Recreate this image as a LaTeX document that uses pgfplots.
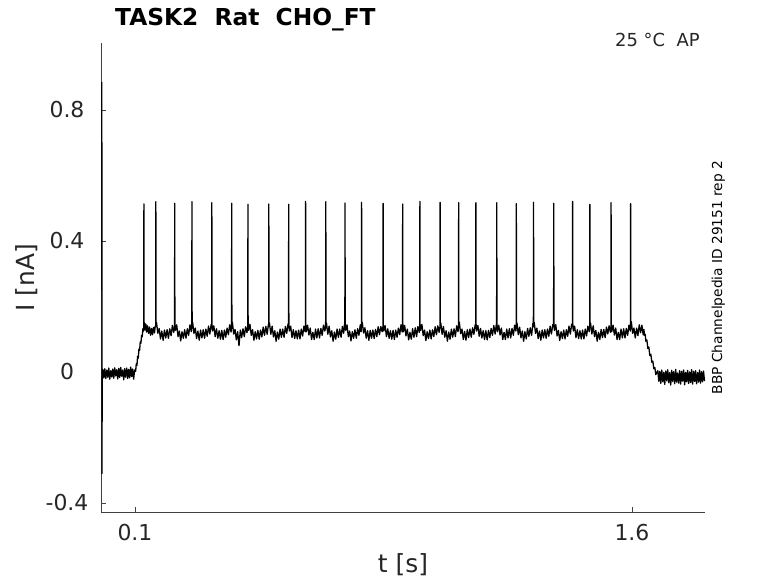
\documentclass[border=0pt]{standalone}
\usepackage{fontspec}
\setmainfont{DejaVu Sans}
\usepackage{pgfplots}
\pgfplotsset{compat=1.18}
\begin{document}
\begin{tikzpicture}[x=1bp,y=1bp]
\path[use as bounding box] (0,0) rectangle (778,583);
\begin{axis}[
 at={(101bp,71bp)}, anchor=south west,
 scale only axis, width=604bp, height=469bp,
 xmin=-0.0025, xmax=1.8205, ymin=-0.4275, ymax=1.0046,
 axis x line*=bottom, axis y line*=left,
 axis line style={-, draw=black!75, line width=0.6bp},
 tick align=inside, major tick length=5bp,
 tick style={black!75, line width=0.6bp},
 xtick={0.1,1.6}, xticklabels={0.1,1.6},
 ytick={-0.4,0,0.4,0.8}, yticklabels={-0.4,0,0.4,0.8},
 tick label style={font=\fontsize{22}{26}\selectfont, text=black!85},
 xticklabel style={anchor=north, yshift=-9bp},
 yticklabel style={anchor=center, xshift=-34bp},
 xlabel={t [s]}, ylabel={I [nA]},
 label style={font=\fontsize{25}{30}\selectfont, text=black!85},
 xlabel style={at={(axis description cs:0.5,-0.113)}, anchor=center},
 ylabel style={at={(axis description cs:-0.1225,0.5)}, anchor=center},
]
\addplot[black, line width=1.3bp, line join=round, no markers] coordinates {
(0,0.885)(0.0004,-0.31)(0.0012,-0.005)
(0.003,0.008)(0.006,-0.018)(0.009,0.010)(0.012,-0.020)(0.015,0.006)(0.018,-0.016)(0.021,0.012)(0.024,-0.022)(0.027,0.004)(0.030,-0.015)(0.033,0.009)(0.036,-0.019)(0.039,0.013)(0.042,-0.012)(0.045,0.007)(0.048,-0.021)(0.051,0.011)(0.054,-0.017)(0.057,0.014)(0.060,-0.013)(0.063,0.006)(0.066,-0.024)(0.069,0.010)(0.072,-0.016)(0.075,0.012)(0.078,-0.020)(0.081,0.008)(0.084,-0.018)(0.087,0.015)(0.090,-0.014)(0.093,0.009)(0.096,-0.022)(0.099,0.006)
(0.102,0.002)(0.104,0.025)(0.106,0.020)(0.108,0.048)(0.110,0.042)(0.112,0.070)(0.114,0.066)(0.116,0.092)(0.118,0.088)(0.120,0.112)(0.122,0.108)(0.124,0.132)(0.126,0.125)
(0.1265,0.138)(0.127,0.513)(0.1275,0.146)
(0.129,0.150)(0.131,0.128)(0.133,0.146)(0.135,0.122)(0.138,0.141)(0.141,0.118)(0.144,0.137)(0.147,0.112)(0.150,0.133)(0.153,0.114)(0.156,0.136)(0.159,0.119)(0.161,0.140)
(0.1625,0.138)(0.163,0.520)(0.1635,0.146)
(0.165,0.152)(0.169,0.118)(0.173,0.133)(0.177,0.101)(0.181,0.125)(0.185,0.097)(0.189,0.128)(0.193,0.104)(0.197,0.129)(0.201,0.103)(0.205,0.132)(0.209,0.111)(0.213,0.142)(0.217,0.121)
(0.2195,0.138)(0.220,0.515)(0.2205,0.146)
(0.222,0.127)(0.226,0.144)(0.230,0.108)(0.234,0.125)(0.238,0.095)(0.242,0.123)(0.246,0.103)(0.250,0.129)(0.254,0.103)(0.258,0.132)(0.262,0.112)(0.266,0.144)(0.270,0.123)
(0.2715,0.138)(0.272,0.520)(0.2725,0.146)
(0.274,0.152)(0.278,0.118)(0.282,0.134)(0.286,0.102)(0.290,0.125)(0.294,0.097)(0.298,0.128)(0.302,0.104)(0.306,0.129)(0.310,0.103)(0.314,0.131)(0.318,0.109)(0.322,0.140)(0.326,0.116)(0.330,0.145)
(0.3315,0.138)(0.332,0.517)(0.3325,0.146)
(0.334,0.125)(0.338,0.141)(0.342,0.108)(0.346,0.132)(0.350,0.103)(0.354,0.126)(0.358,0.100)(0.362,0.127)(0.366,0.099)(0.370,0.128)(0.374,0.106)(0.378,0.134)(0.382,0.114)(0.386,0.144)(0.390,0.122)
(0.3915,0.138)(0.392,0.515)(0.3925,0.146)
(0.394,0.152)(0.398,0.116)(0.402,0.130)(0.406,0.098)(0.410,0.123)(0.414,0.080)(0.418,0.128)(0.422,0.105)(0.426,0.132)(0.430,0.108)(0.434,0.138)(0.438,0.120)
(0.4405,0.138)(0.441,0.512)(0.4415,0.146)
(0.443,0.127)(0.447,0.146)(0.451,0.112)(0.455,0.129)(0.459,0.097)(0.463,0.123)(0.467,0.101)(0.471,0.127)(0.475,0.100)(0.479,0.128)(0.483,0.107)(0.487,0.137)(0.491,0.112)(0.495,0.139)(0.499,0.115)(0.5025,0.144)
(0.5035,0.138)(0.504,0.513)(0.5045,0.146)
(0.506,0.150)(0.510,0.115)(0.514,0.140)(0.518,0.107)(0.522,0.126)(0.526,0.094)(0.530,0.122)(0.534,0.100)(0.538,0.131)(0.542,0.106)(0.546,0.131)(0.550,0.106)(0.554,0.139)(0.558,0.118)(0.562,0.147)
(0.5635,0.138)(0.564,0.512)(0.5645,0.146)
(0.566,0.125)(0.570,0.140)(0.574,0.105)(0.578,0.129)(0.582,0.102)(0.586,0.126)(0.590,0.101)(0.594,0.128)(0.598,0.101)(0.602,0.131)(0.606,0.110)(0.610,0.140)(0.6135,0.123)
(0.6145,0.138)(0.615,0.521)(0.6155,0.146)
(0.617,0.123)(0.621,0.143)(0.625,0.113)(0.629,0.134)(0.633,0.099)(0.637,0.121)(0.641,0.099)(0.645,0.131)(0.649,0.104)(0.653,0.132)(0.657,0.104)(0.661,0.133)(0.665,0.112)(0.669,0.143)(0.673,0.125)
(0.6755,0.138)(0.676,0.520)(0.6765,0.146)
(0.678,0.150)(0.682,0.115)(0.686,0.140)(0.690,0.107)(0.694,0.126)(0.698,0.094)(0.702,0.122)(0.706,0.100)(0.710,0.131)(0.714,0.106)(0.718,0.131)(0.722,0.106)(0.726,0.139)(0.730,0.118)(0.7325,0.147)
(0.7335,0.138)(0.734,0.516)(0.7345,0.146)
(0.736,0.127)(0.740,0.144)(0.744,0.108)(0.748,0.125)(0.752,0.095)(0.756,0.123)(0.760,0.103)(0.764,0.129)(0.768,0.103)(0.772,0.132)(0.776,0.112)(0.780,0.144)(0.7825,0.123)
(0.7835,0.138)(0.784,0.518)(0.7845,0.146)
(0.786,0.152)(0.790,0.119)(0.794,0.135)(0.798,0.103)(0.802,0.126)(0.806,0.097)(0.810,0.127)(0.814,0.103)(0.818,0.128)(0.822,0.102)(0.826,0.130)(0.830,0.108)(0.834,0.138)(0.838,0.114)(0.842,0.139)(0.846,0.123)
(0.8485,0.138)(0.849,0.515)(0.8495,0.146)
(0.851,0.125)(0.855,0.141)(0.859,0.108)(0.863,0.132)(0.867,0.103)(0.871,0.126)(0.875,0.100)(0.879,0.127)(0.883,0.099)(0.887,0.128)(0.891,0.106)(0.895,0.134)(0.899,0.114)(0.903,0.144)(0.9065,0.122)
(0.9075,0.138)(0.908,0.513)(0.9085,0.146)
(0.910,0.123)(0.914,0.142)(0.918,0.110)(0.922,0.131)(0.926,0.098)(0.930,0.121)(0.934,0.100)(0.938,0.132)(0.942,0.106)(0.946,0.135)(0.950,0.108)(0.954,0.139)(0.958,0.121)
(0.9595,0.138)(0.960,0.521)(0.9605,0.146)
(0.962,0.127)(0.966,0.145)(0.970,0.111)(0.974,0.128)(0.978,0.096)(0.982,0.123)(0.986,0.102)(0.990,0.128)(0.994,0.101)(0.998,0.129)(1.002,0.108)(1.006,0.138)(1.010,0.114)(1.014,0.141)(1.018,0.121)
(1.0205,0.138)(1.021,0.518)(1.0215,0.146)
(1.023,0.150)(1.027,0.115)(1.031,0.139)(1.035,0.106)(1.039,0.126)(1.043,0.094)(1.047,0.122)(1.051,0.100)(1.055,0.131)(1.059,0.106)(1.063,0.132)(1.067,0.108)(1.071,0.141)(1.075,0.123)
(1.0765,0.138)(1.077,0.517)(1.0775,0.146)
(1.079,0.152)(1.083,0.117)(1.087,0.131)(1.091,0.099)(1.095,0.124)(1.099,0.097)(1.103,0.129)(1.107,0.105)(1.111,0.131)(1.115,0.106)(1.119,0.135)(1.123,0.115)(1.127,0.145)
(1.1285,0.138)(1.129,0.517)(1.1295,0.146)
(1.131,0.125)(1.135,0.142)(1.139,0.109)(1.143,0.133)(1.147,0.104)(1.151,0.126)(1.155,0.099)(1.159,0.126)(1.163,0.098)(1.167,0.127)(1.171,0.105)(1.175,0.133)(1.179,0.112)(1.183,0.142)(1.187,0.116)(1.1905,0.145)
(1.1915,0.138)(1.192,0.517)(1.1925,0.146)
(1.194,0.123)(1.198,0.143)(1.202,0.113)(1.206,0.134)(1.210,0.099)(1.214,0.121)(1.218,0.099)(1.222,0.131)(1.226,0.104)(1.230,0.132)(1.234,0.104)(1.238,0.133)(1.242,0.112)(1.246,0.143)(1.2495,0.125)
(1.2505,0.138)(1.251,0.514)(1.2515,0.146)
(1.253,0.150)(1.257,0.114)(1.261,0.137)(1.265,0.104)(1.269,0.125)(1.273,0.094)(1.277,0.123)(1.281,0.101)(1.285,0.133)(1.289,0.109)(1.293,0.135)(1.297,0.112)(1.301,0.148)
(1.3025,0.138)(1.303,0.518)(1.3035,0.146)
(1.305,0.152)(1.309,0.118)(1.313,0.134)(1.317,0.102)(1.321,0.125)(1.325,0.097)(1.329,0.128)(1.333,0.104)(1.337,0.129)(1.341,0.103)(1.345,0.131)(1.349,0.109)(1.353,0.140)(1.357,0.116)(1.361,0.145)
(1.3635,0.138)(1.364,0.515)(1.3645,0.146)
(1.366,0.127)(1.370,0.145)(1.374,0.110)(1.378,0.127)(1.382,0.096)(1.386,0.123)(1.390,0.102)(1.394,0.128)(1.398,0.101)(1.402,0.129)(1.406,0.109)(1.410,0.140)(1.414,0.116)(1.418,0.146)
(1.4205,0.138)(1.421,0.521)(1.4215,0.146)
(1.423,0.125)(1.427,0.140)(1.431,0.105)(1.435,0.129)(1.439,0.102)(1.443,0.126)(1.447,0.101)(1.451,0.128)(1.455,0.101)(1.459,0.131)(1.463,0.110)(1.467,0.140)(1.471,0.123)
(1.4725,0.138)(1.473,0.512)(1.4735,0.146)
(1.475,0.150)(1.479,0.116)(1.483,0.141)(1.487,0.108)(1.491,0.127)(1.495,0.094)(1.499,0.121)(1.503,0.099)(1.507,0.130)(1.511,0.105)(1.515,0.130)(1.519,0.105)(1.523,0.137)(1.527,0.116)(1.531,0.141)(1.535,0.121)
(1.5365,0.138)(1.537,0.517)(1.5375,0.146)
(1.539,0.123)(1.543,0.143)(1.547,0.113)(1.551,0.134)(1.555,0.099)(1.559,0.121)(1.563,0.099)(1.567,0.131)(1.571,0.104)(1.575,0.132)(1.579,0.104)(1.583,0.133)(1.587,0.112)(1.591,0.143)(1.595,0.125)
(1.5955,0.138)(1.596,0.514)(1.5965,0.146)
(1.598,0.154)(1.602,0.118)(1.606,0.134)(1.610,0.104)(1.614,0.134)(1.618,0.111)(1.622,0.144)(1.626,0.120)(1.630,0.143)(1.634,0.113)
(1.636,0.130)(1.638,0.112)(1.640,0.115)(1.642,0.094)(1.645,0.098)(1.648,0.072)(1.651,0.076)(1.654,0.050)(1.657,0.054)(1.660,0.030)(1.663,0.033)(1.666,0.010)(1.669,0.014)(1.672,-0.008)(1.675,-0.002)
(1.678,0.004)(1.681,-0.028)(1.684,0.002)(1.687,-0.035)(1.690,0.006)(1.693,-0.030)(1.696,-0.001)(1.699,-0.038)(1.702,0.003)(1.705,-0.027)(1.708,0.007)(1.711,-0.033)(1.714,-0.002)(1.717,-0.040)(1.720,0.005)(1.723,-0.029)(1.726,0.001)(1.729,-0.036)(1.732,0.008)(1.735,-0.031)(1.738,-0.003)(1.741,-0.034)(1.744,0.004)(1.747,-0.037)(1.750,0.002)(1.753,-0.028)(1.756,0.006)(1.759,-0.039)(1.762,-0.001)(1.765,-0.030)(1.768,0.005)(1.771,-0.035)(1.774,0.000)(1.777,-0.032)(1.780,0.007)(1.783,-0.037)(1.786,0.002)(1.789,-0.029)(1.792,0.004)(1.795,-0.036)(1.798,-0.002)(1.801,-0.031)(1.804,0.006)(1.807,-0.034)(1.810,0.001)(1.813,-0.030)(1.816,0.003)(1.819,-0.028)
};
\end{axis}
\node[anchor=base west, inner sep=0, font=\fontsize{23.4}{28}\selectfont\bfseries] at (115,557) {TASK2~~Rat~~CHO\_FT};
\node[anchor=base west, inner sep=0, font=\fontsize{18}{22}\selectfont, text=black!85] at (615,536) {25 °C~~AP};
\node[rotate=90, anchor=base, inner sep=0, font=\fontsize{13.8}{16}\selectfont] at (722,305.5) {BBP Channelpedia ID 29151 rep 2};
\end{tikzpicture}
\end{document}
